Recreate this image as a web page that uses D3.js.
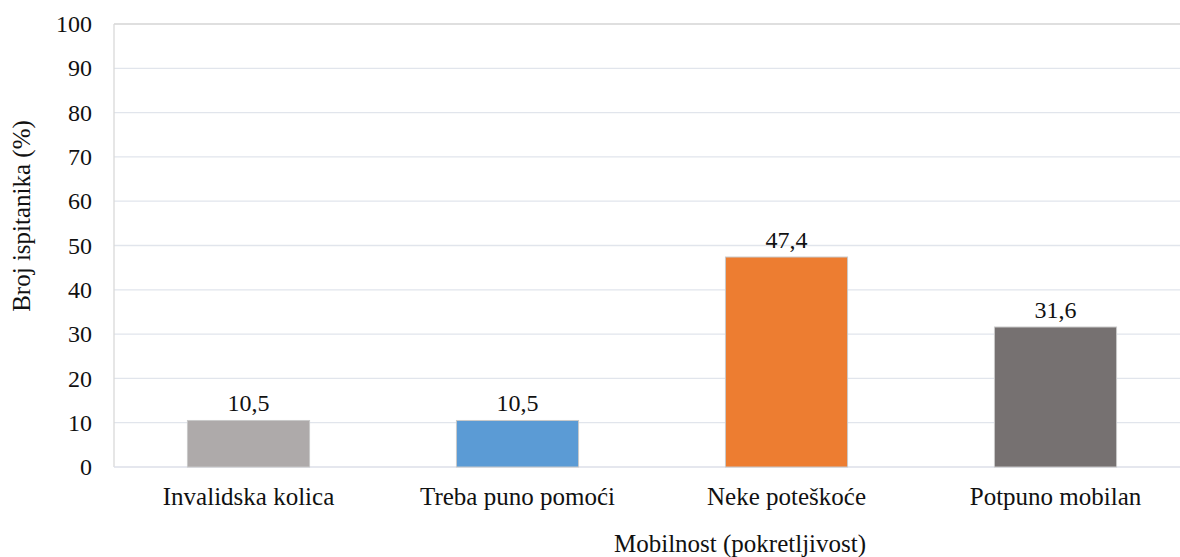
<!DOCTYPE html>
<html>
<head>
<meta charset="utf-8">
<script src="https://cdn.jsdelivr.net/npm/d3@7"></script>
<style>
  body { margin: 0; background: #fff; }
  svg text { font-family: 'Liberation Serif', 'Times New Roman', Times, serif !important; fill: #111; }
</style>
</head>
<body>
<div id="chart"></div>
<script>
// data
var categories = ["Invalidska kolica", "Treba puno pomoći", "Neke poteškoće", "Potpuno mobilan"];
var values = [10.5, 10.5, 47.4, 31.6];
var labels = ["10,5", "10,5", "47,4", "31,6"];
var colors = ["#AEAAAA", "#5B9BD5", "#ED7D31", "#767171"];
var yTicks = [0, 10, 20, 30, 40, 50, 60, 70, 80, 90, 100];

var serif = "'Liberation Serif', 'Times New Roman', Times, serif";

var svg = d3.select("#chart").append("svg").attr("width", 1180).attr("height", 557)
    .style("font-family", serif);

var mLeft = 114, mRight = 1190, mTop = 24, mBottom = 467;

var x = d3.scaleBand().domain(categories).range([mLeft, mRight])
    .paddingInner(0.546).paddingOuter(0.273);
var y = d3.scaleLinear().domain([0, 100]).range([mBottom, mTop]);

// gridlines
svg.append("g").selectAll("line")
   .data(yTicks.filter(function (d) { return d > 0 && d < 100; }))
   .enter().append("line")
   .attr("x1", mLeft).attr("x2", mRight)
   .attr("y1", function (d) { return y(d); }).attr("y2", function (d) { return y(d); })
   .attr("stroke", "#E1E5EC").attr("stroke-width", 1.3);

// plot border top/left and baseline
svg.append("line").attr("x1", mLeft).attr("x2", mRight).attr("y1", y(100)).attr("y2", y(100))
   .attr("stroke", "#D4D4D4").attr("stroke-width", 1.5);
svg.append("line").attr("x1", mLeft).attr("x2", mLeft).attr("y1", y(100)).attr("y2", y(0))
   .attr("stroke", "#D9D9D9").attr("stroke-width", 1.3);
svg.append("line").attr("x1", mLeft).attr("x2", mRight).attr("y1", y(0)).attr("y2", y(0))
   .attr("stroke", "#DCDFE8").attr("stroke-width", 1.5);

// y axis labels
var yAxis = d3.axisLeft(y).tickValues(yTicks).tickSize(0).tickPadding(22);
var gy = svg.append("g").attr("transform", "translate(" + mLeft + ",0)").call(yAxis)
    .attr("font-family", null).attr("font-size", null);
gy.select(".domain").remove();
gy.selectAll("text").style("font-size", "24px").style("font-family", serif).attr("fill", "#111");

// bars
svg.selectAll("rect.bar")
   .data(values)
   .enter().append("rect")
   .attr("class", "bar")
   .attr("x", function (d, i) { return x(categories[i]); })
   .attr("width", x.bandwidth())
   .attr("y", function (d) { return y(d); })
   .attr("height", function (d) { return y(0) - y(d); })
   .attr("fill", function (d, i) { return colors[i]; })
   .attr("stroke", "#C9C9C9").attr("stroke-width", 1);

// value labels
svg.selectAll("text.val")
   .data(values)
   .enter().append("text")
   .attr("class", "val")
   .attr("x", function (d, i) { return x(categories[i]) + x.bandwidth() / 2; })
   .attr("y", function (d) { return y(d) - 9; })
   .attr("text-anchor", "middle")
   .style("font-size", "24px").style("font-family", serif)
   .text(function (d, i) { return labels[i]; });

// x axis labels
var xAxis = d3.axisBottom(x).tickSize(0).tickPadding(20);
var gx = svg.append("g").attr("transform", "translate(0," + mBottom + ")").call(xAxis)
    .attr("font-family", null).attr("font-size", null);
gx.select(".domain").remove();
gx.selectAll("text").style("font-size", "25px").style("font-family", serif).attr("fill", "#111");

// axis titles
svg.append("text").attr("x", 740).attr("y", 552).attr("text-anchor", "middle")
   .style("font-size", "25px").style("font-family", serif).text("Mobilnost (pokretljivost)");
svg.append("text").attr("transform", "translate(30,216) rotate(-90)").attr("text-anchor", "middle")
   .style("font-size", "25px").style("font-family", serif).text("Broj ispitanika (%)");
</script>
</body>
</html>
